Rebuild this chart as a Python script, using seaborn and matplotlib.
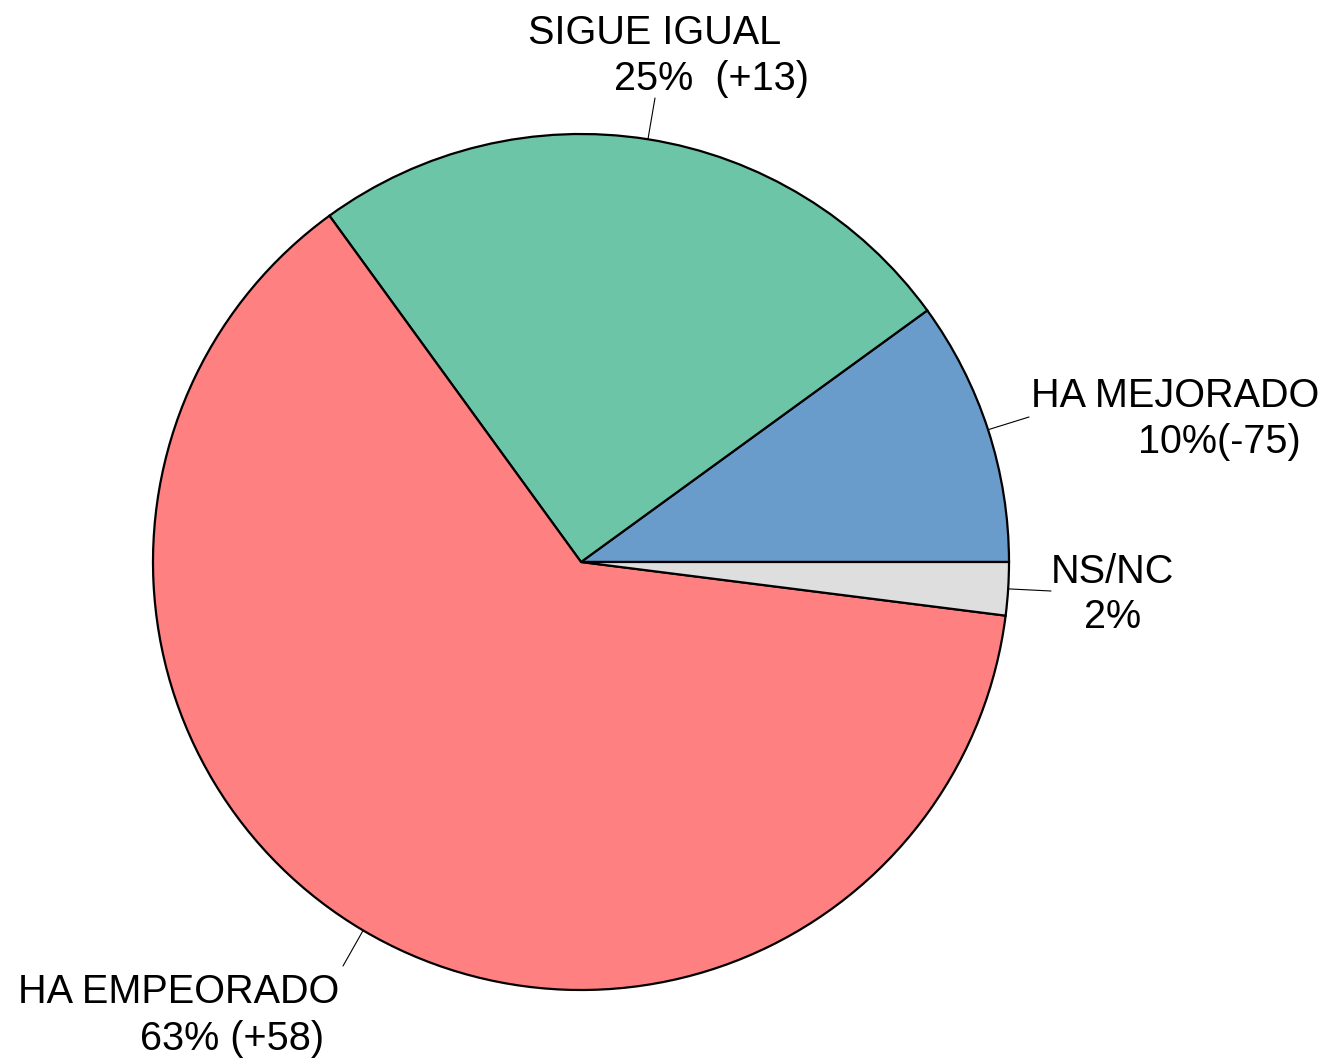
import numpy as np
import matplotlib
matplotlib.use("Agg")
import matplotlib.pyplot as plt
import seaborn as sns

# =========================
# DATA
# =========================
categorias = ["HA MEJORADO", "SIGUE IGUAL", "HA EMPEORADO", "NS/NC"]
porcentajes = [10, 25, 63, 2]
variacion = ["(-75)", "(+13)", "(+58)", ""]
colores = ["#699ccb", "#6dc5a8", "#ff8080", "#dedede"]

# =========================
# STYLE
# =========================
sns.set_theme(style="white")
plt.rcParams["font.family"] = ["Liberation Sans", "DejaVu Sans"]

W, H = 1329, 1064
fig = plt.figure(figsize=(W / 100, H / 100), dpi=100)
ax = fig.add_axes([0, 0, 1, 1])

# pixel coords, y up
cx, cy, R = 581, H - 562, 428

wedges, _ = ax.pie(
    porcentajes,
    colors=colores,
    startangle=0,
    counterclock=True,
    center=(cx, cy),
    radius=R,
    wedgeprops=dict(edgecolor="black", linewidth=1.6),
)
ax.set_xlim(0, W)
ax.set_ylim(0, H)
ax.set_aspect("auto")
ax.axis("off")

# =========================
# LABELS (label anchor, line end, text positions in pixels from top)
# =========================
line_end = [(1029, 417), (655, 98), (343, 966), (1051, 591)]
txt1 = [(1175, 407), (655, 44), (179, 1003), (1112, 583)]
txt2 = [(1219, 453), (712, 90), (232, 1050), (1113, 628)]
segundo = ["10%(-75)", "25%  (+13)", "63% (+58)", "2%"]

fs = 28.5
for w, cat, le, t1, t2, s2 in zip(wedges, categorias, line_end, txt1, txt2, segundo):
    ang = np.deg2rad((w.theta1 + w.theta2) / 2)
    x0 = cx + R * np.cos(ang)
    y0 = cy + R * np.sin(ang)
    ax.plot([x0, le[0]], [y0, H - le[1]], color="black", lw=0.8)
    ax.text(t1[0], H - t1[1], cat, ha="center", va="baseline", fontsize=fs, color="black")
    ax.text(t2[0], H - t2[1], s2, ha="center", va="baseline", fontsize=fs, color="black")

plt.savefig("out.png", dpi=100)
